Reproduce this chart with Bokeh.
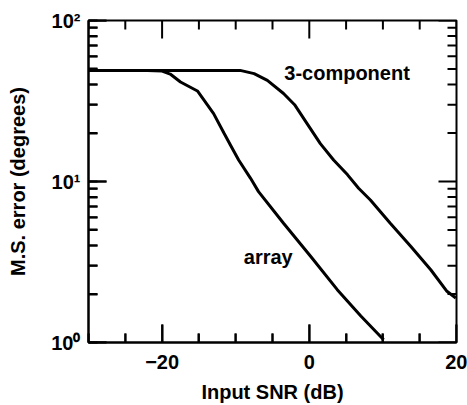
from bokeh.plotting import figure
from bokeh.models import LinearAxis, LogAxis, FixedTicker, LogTicker, Label, Range1d, BoxAnnotation
from bokeh.embed import file_html
from bokeh.resources import INLINE

# Data
array_x = [-30, -22, -20, -18.9, -17.5, -15.2, -13.0, -11.6, -10.7, -9.6, -8.0, -6.9, -3.5, 0.2, 3.8, 7.0, 10.1]
array_y = [49, 49, 48.5, 46.5, 41.5, 36.5, 26.4, 20.0, 16.8, 13.6, 10.5, 8.65, 5.5, 3.42, 2.13, 1.46, 1.04]

comp_x = [-30, -12, -9.4, -7.5, -5.7, -3.5, -2.0, -0.3, 1.5, 3.3, 5.2, 6.7, 8.3, 11.0, 13.8, 16.5, 18.7, 19.9]
comp_y = [49, 49, 49, 46.8, 42.5, 35.2, 30.0, 22.9, 17.2, 13.6, 11.0, 9.08, 7.68, 5.51, 3.95, 2.83, 2.08, 1.89]

x_major = [-20, 0, 20]
x_minor = [-30, -25, -15, -10, -5, 5, 10, 15]
y_major = [1, 10, 100]
y_minor = [2, 3, 4, 5, 6, 7, 8, 9, 20, 30, 40, 50, 60, 70, 80, 90]
y_labels = {1: "10\u2070", 10: "10\u00b9", 100: "10\u00b2"}
x_labels = {-20: "\u221220", 0: "0", 20: "20"}

label_text = ["3-component", "array"]
label_x = [-3.4, -8.9]
label_y = [47, 3.4]

X0, X1 = -30, 20
Y0, Y1 = 1, 100

W, H = 467, 405
BL, BR, BT, BB = 88, 11, 20, 62
FRAME_W = W - BL - BR
FRAME_H = H - BT - BB
MAJOR_LEN, MINOR_LEN = 18, 9

FONT = "Liberation Sans"

p = figure(width=W, height=H, x_range=Range1d(X0, X1), y_range=Range1d(Y0, Y1),
           y_axis_type="log", output_backend="svg", toolbar_location=None,
           x_axis_location=None, y_axis_location=None,
           min_border_left=BL, min_border_right=BR, min_border_top=BT, min_border_bottom=BB)
p.grid.visible = False
p.outline_line_color = "black"
p.outline_line_width = 2
p.background_fill_color = "white"
p.border_fill_color = "white"


def style(ax):
    ax.axis_line_width = 2
    ax.major_tick_line_width = 2
    ax.minor_tick_line_width = 2
    ax.major_tick_in = MAJOR_LEN
    ax.major_tick_out = 0
    ax.minor_tick_in = MINOR_LEN
    ax.minor_tick_out = 0
    ax.major_label_text_font = FONT
    ax.major_label_text_font_style = "bold"
    ax.major_label_text_color = "black"
    ax.major_label_text_font_size = "20px"
    ax.axis_label_text_font = FONT
    ax.axis_label_text_font_style = "bold"
    ax.axis_label_text_font_size = "20px"
    ax.axis_label_text_color = "black"


xb = LinearAxis(ticker=FixedTicker(ticks=x_major, minor_ticks=x_minor),
                axis_label="Input SNR (dB)", major_label_overrides=x_labels)
style(xb)
xb.major_label_standoff = 12
xb.axis_label_standoff = 9
p.add_layout(xb, "below")

yl = LogAxis(ticker=LogTicker(num_minor_ticks=10), axis_label="M.S. error (degrees)",
             major_label_overrides=y_labels)
style(yl)
yl.major_label_standoff = 8
yl.axis_label_standoff = 19
p.add_layout(yl, "left")

p.line(array_x, array_y, line_color="black", line_width=3)
p.line(comp_x, comp_y, line_color="black", line_width=3)

# inward tick marks on all four sides as thin box annotations (pixel lengths -> data units)
x_per_px = (X1 - X0) / FRAME_W
dec_per_px = (len(str(Y1)) - len(str(Y0))) / FRAME_H


def tick_box(left, right, bottom, top):
    p.add_layout(BoxAnnotation(left=left, right=right, bottom=bottom, top=top,
                               fill_alpha=0, line_color="black", line_width=2, line_alpha=1,
                               editable=False))


for ticks, L in ((x_major, MAJOR_LEN), (x_minor, MINOR_LEN)):
    f = 10 ** (L * dec_per_px)
    for t in ticks:
        tick_box(t, t, Y0, Y0 * f)
        tick_box(t, t, Y1 / f, Y1)
for ticks, L in ((y_major, MAJOR_LEN), (y_minor, MINOR_LEN)):
    d = L * x_per_px
    for t in ticks:
        tick_box(X0, X0 + d, t, t)
        tick_box(X1 - d, X1, t, t)

for t, lx_, ly_ in zip(label_text, label_x, label_y):
    p.add_layout(Label(x=lx_, y=ly_, text=t, text_font=FONT, text_font_style="bold",
                       text_font_size="20px", text_baseline="middle", text_color="black"))

open("out.html", "w").write(file_html(p, INLINE))
